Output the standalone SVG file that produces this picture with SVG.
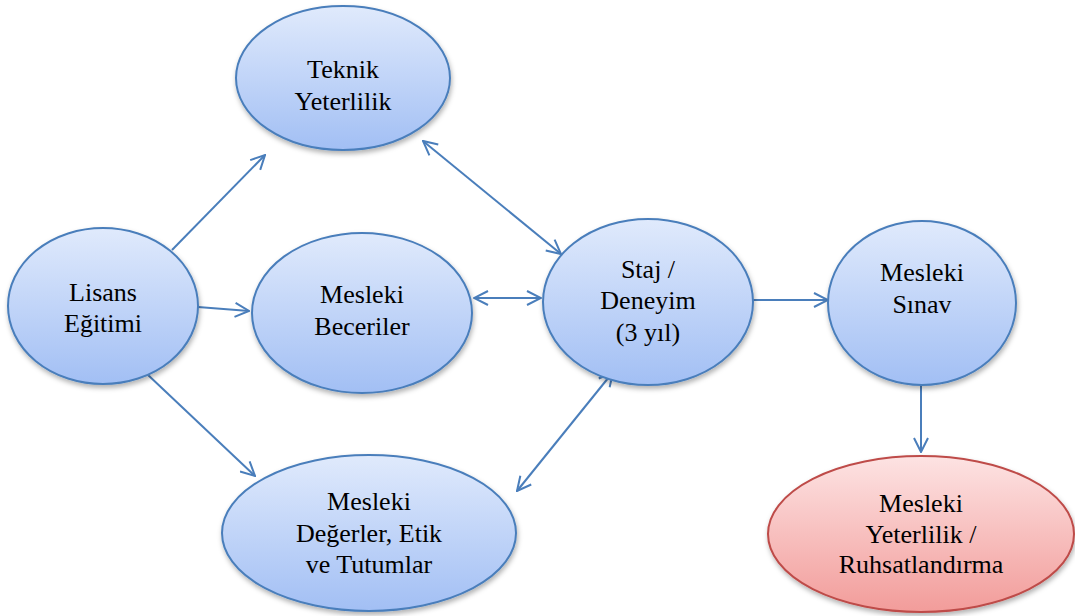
<svg xmlns="http://www.w3.org/2000/svg" width="1075" height="616" viewBox="0 0 1075 616">
<defs>
<linearGradient id="gb" x1="0" y1="0" x2="0" y2="1">
<stop offset="0" stop-color="#e0eafc"/>
<stop offset="1" stop-color="#a2bff4"/>
</linearGradient>
<linearGradient id="gr" x1="0" y1="0" x2="0" y2="1">
<stop offset="0" stop-color="#fde3e3"/>
<stop offset="1" stop-color="#f29c9a"/>
</linearGradient>
<filter id="sh" x="-10%" y="-10%" width="125%" height="130%">
<feDropShadow dx="1" dy="3" stdDeviation="2.5" flood-color="#000" flood-opacity="0.3"/>
</filter>
<marker id="ah" viewBox="0 0 16 16" refX="15" refY="8" markerWidth="16" markerHeight="16" markerUnits="userSpaceOnUse" orient="auto-start-reverse">
<path d="M1,1 L15,8 L1,15" fill="none" stroke="#4a7ebb" stroke-width="2"/>
</marker>
</defs>
<rect width="1075" height="616" fill="#fff"/>
<g id="connectors" stroke="#4a7ebb" stroke-width="2" fill="none">
<line x1="172" y1="250" x2="265" y2="155" marker-end="url(#ah)"/>
<line x1="198" y1="307" x2="249" y2="311" marker-end="url(#ah)"/>
<line x1="147" y1="374" x2="255" y2="476" marker-end="url(#ah)"/>
<line x1="423" y1="141" x2="561" y2="254" marker-start="url(#ah)" marker-end="url(#ah)"/>
<line x1="474" y1="298" x2="541" y2="298" marker-start="url(#ah)" marker-end="url(#ah)"/>
<line x1="517" y1="491" x2="613" y2="372" marker-start="url(#ah)" marker-end="url(#ah)"/>
<line x1="752" y1="300" x2="828" y2="300" marker-end="url(#ah)"/>
<line x1="921" y1="385" x2="921" y2="452" marker-end="url(#ah)"/>
</g>
<g id="nodes" font-family="'Liberation Serif', serif" font-size="26" text-anchor="middle" fill="#000">
<g id="teknik">
<ellipse cx="343" cy="78" rx="107" ry="72" fill="url(#gb)" stroke="#4a7ebb" stroke-width="2" filter="url(#sh)"/>
<text x="343" y="78" font-family="'Liberation Serif', serif" style="font-family:'Liberation Serif',serif">Teknik</text>
<text x="343" y="110" font-family="'Liberation Serif', serif" style="font-family:'Liberation Serif',serif">Yeterlilik</text>
</g>
<g id="lisans">
<ellipse cx="103" cy="306" rx="95" ry="78" fill="url(#gb)" stroke="#4a7ebb" stroke-width="2" filter="url(#sh)"/>
<text x="103" y="301" font-family="'Liberation Serif', serif" style="font-family:'Liberation Serif',serif">Lisans</text>
<text x="103" y="332" font-family="'Liberation Serif', serif" style="font-family:'Liberation Serif',serif">Eğitimi</text>
</g>
<g id="beceriler">
<ellipse cx="362" cy="313" rx="110" ry="80" fill="url(#gb)" stroke="#4a7ebb" stroke-width="2" filter="url(#sh)"/>
<text x="362" y="303" font-family="'Liberation Serif', serif" style="font-family:'Liberation Serif',serif">Mesleki</text>
<text x="362" y="335" font-family="'Liberation Serif', serif" style="font-family:'Liberation Serif',serif">Beceriler</text>
</g>
<g id="staj">
<ellipse cx="648" cy="302" rx="105" ry="83" fill="url(#gb)" stroke="#4a7ebb" stroke-width="2" filter="url(#sh)"/>
<text x="648" y="278" font-family="'Liberation Serif', serif" style="font-family:'Liberation Serif',serif">Staj /</text>
<text x="648" y="309" font-family="'Liberation Serif', serif" style="font-family:'Liberation Serif',serif">Deneyim</text>
<text x="648" y="341" font-family="'Liberation Serif', serif" style="font-family:'Liberation Serif',serif">(3 yıl)</text>
</g>
<g id="sinav">
<ellipse cx="922" cy="303" rx="94" ry="82" fill="url(#gb)" stroke="#4a7ebb" stroke-width="2" filter="url(#sh)"/>
<text x="922" y="281" font-family="'Liberation Serif', serif" style="font-family:'Liberation Serif',serif">Mesleki</text>
<text x="922" y="313" font-family="'Liberation Serif', serif" style="font-family:'Liberation Serif',serif">Sınav</text>
</g>
<g id="degerler">
<ellipse cx="369" cy="533" rx="147" ry="78" fill="url(#gb)" stroke="#4a7ebb" stroke-width="2" filter="url(#sh)"/>
<text x="369" y="510" font-family="'Liberation Serif', serif" style="font-family:'Liberation Serif',serif">Mesleki</text>
<text x="369" y="542" font-family="'Liberation Serif', serif" style="font-family:'Liberation Serif',serif">Değerler, Etik</text>
<text x="369" y="573" font-family="'Liberation Serif', serif" style="font-family:'Liberation Serif',serif">ve Tutumlar</text>
</g>
<g id="ruhsat">
<ellipse cx="921" cy="534" rx="153" ry="78" fill="url(#gr)" stroke="#be4b48" stroke-width="2" filter="url(#sh)"/>
<text x="921" y="512" font-family="'Liberation Serif', serif" style="font-family:'Liberation Serif',serif">Mesleki</text>
<text x="921" y="543" font-family="'Liberation Serif', serif" style="font-family:'Liberation Serif',serif">Yeterlilik /</text>
<text x="921" y="573" font-family="'Liberation Serif', serif" style="font-family:'Liberation Serif',serif">Ruhsatlandırma</text>
</g>
</g>
</svg>
